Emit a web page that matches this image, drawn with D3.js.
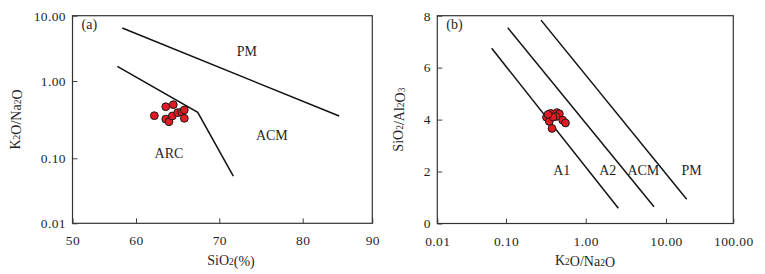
<!DOCTYPE html>
<html><head><meta charset="utf-8">
<script src="https://cdn.jsdelivr.net/npm/d3@7"></script>
<style>
body{margin:0;background:#fff;}
text{font-family:"Liberation Serif","Times New Roman",serif;fill:#1f1f2a;}
</style></head>
<body><svg id="c" width="765" height="274"></svg>
<script>
// ---------- Panel (a) data ----------
const aXTicks = [50, 60, 70, 80, 90];
const aYTicks = [0.01, 0.1, 1, 10];
const aSiO2   = [62.2, 63.57, 64.48, 63.57, 63.96, 64.36, 65.0, 65.49, 65.8, 65.8];
const aK2ONa2O= [0.356, 0.465, 0.494, 0.322, 0.297, 0.353, 0.389, 0.397, 0.422, 0.329];
const aLinePM  = [[57.84, 6.49], [85.24, 0.352]];
const aLineARC = [[57.06, 1.68], [67.41, 0.394], [71.68, 0.0532]];
const aRegions = [["PM", 73.3, 2.75], ["ACM", 76.3, 0.19], ["ARC", 63.96, 0.11]];

// ---------- Panel (b) data ----------
const bXTicks = [0.01, 0.1, 1, 10, 100];
const bYTicks = [0, 2, 4, 6, 8];
const bK2ONa2O = [0.322, 0.364, 0.349, 0.378, 0.437, 0.467, 0.424, 0.514, 0.558, 0.389, 0.337];
const bSiAl    = [4.09, 4.24, 3.93, 3.66, 4.27, 4.22, 4.12, 3.98, 3.87, 4.10, 4.20];
const bLineA1  = [[0.0619, 6.745], [2.55, 0.585]];
const bLineA2  = [[0.105, 7.54], [7.09, 0.647]];
const bLineACM = [[0.275, 7.83], [20.3, 0.93]];
const bRegions = [["A1", 0.5, 1.99], ["A2", 1.88, 1.99], ["ACM", 5.22, 1.99], ["PM", 24.1, 1.99]];

const svg = d3.select("#c");

function chemText(sel, str){
  const parts = str.match(/(\d+|[^\d]+)/g);
  parts.forEach(p=>{
    if(/^\d+$/.test(p)){
      sel.append("tspan").attr("font-size","9.5px").attr("dy","1").text(p);
      sel.append("tspan").attr("dy","-1").text("");
    } else sel.append("tspan").text(p);
  });
}

function panel(cfg){
  const g = svg.append("g");
  const {x, y} = cfg;
  const [x0,x1] = [x.range()[0], x.range()[x.range().length-1]];
  const [y0,y1] = [y.range()[0], y.range()[y.range().length-1]];
  const ax = g.append("g").attr("transform",`translate(0,${y0})`)
    .call(d3.axisBottom(x).tickValues(cfg.xTicks).tickFormat(cfg.xFmt)
      .tickSizeInner(-5).tickSizeOuter(0).tickPadding(12.5));
  const ay = g.append("g").attr("transform",`translate(${x0},0)`)
    .call(d3.axisLeft(y).tickValues(cfg.yTicks).tickFormat(cfg.yFmt)
      .tickSizeInner(-5).tickSizeOuter(0).tickPadding(6.5));
  [ax, ay].forEach(a=>{
    a.select(".domain").remove();
    a.selectAll(".tick line").attr("stroke","#444").attr("stroke-width",1);
    a.selectAll(".tick text").attr("font-size","13.5px").attr("letter-spacing","0.4px")
      .attr("fill","#1f1f2a");
  });
  g.append("rect").attr("x",x0).attr("y",y1).attr("width",x1-x0).attr("height",y0-y1)
    .attr("fill","none").attr("stroke","#333").attr("stroke-width",1.2);
  const line = d3.line().x(d=>x(d[0])).y(d=>y(d[1]));
  cfg.lines.forEach(l=>g.append("path").attr("d",line(l)).attr("fill","none")
    .attr("stroke","#111").attr("stroke-width",1.5));
  cfg.regions.forEach(r=>g.append("text").attr("x",x(r[1])).attr("y",y(r[2]))
    .attr("text-anchor","middle").attr("dominant-baseline","middle")
    .attr("font-size","14px").text(r[0]));
  g.selectAll("circle.pt").data(cfg.px.map((v,i)=>[v,cfg.py[i]])).join("circle")
    .attr("class","pt").attr("cx",d=>x(d[0])).attr("cy",d=>y(d[1])).attr("r",3.9)
    .attr("fill","#e21b23").attr("stroke","#1a1a1a").attr("stroke-width",1);
  g.append("text").attr("x",x0+9).attr("y",y1+10).attr("dominant-baseline","middle")
    .attr("font-size","14px").text(cfg.tag);
  const xt = g.append("text").attr("x",cfg.xTitleX).attr("y",262)
    .attr("text-anchor","middle").attr("dominant-baseline","middle").attr("font-size","14px");
  chemText(xt, cfg.xTitle);
  const yt = g.append("text").attr("transform",`translate(${cfg.yTitleX},${(y0+y1)/2}) rotate(-90)`)
    .attr("text-anchor","middle").attr("dominant-baseline","middle").attr("font-size","14px");
  chemText(yt, cfg.yTitle);
}

const f2 = d3.format(".2f");

panel({
  x: d3.scaleLinear().domain(aXTicks).range([72.5,136,219.3,302.7,372.3]),
  y: d3.scaleLog().domain(aYTicks).range([223.3,158.3,81,15.7]),
  xTicks: aXTicks, yTicks: aYTicks, xFmt: d3.format("d"), yFmt: f2,
  lines: [aLinePM, aLineARC], regions: aRegions, px: aSiO2, py: aK2ONa2O,
  tag: "(a)", xTitle: "SiO2(%)", yTitle: "K2O/Na2O", xTitleX: 231, yTitleX: 17
});

panel({
  x: d3.scaleLog().domain(bXTicks).range([437.3,506,585.7,666,733.3]),
  y: d3.scaleLinear().domain([0,8]).range([223.5,15.7]),
  xTicks: bXTicks, yTicks: bYTicks, xFmt: f2, yFmt: d3.format("d"),
  lines: [bLineA1, bLineA2, bLineACM], regions: bRegions, px: bK2ONa2O, py: bSiAl,
  tag: "(b)", xTitle: "K2O/Na2O", yTitle: "SiO2/Al2O3", xTitleX: 585, yTitleX: 400
});
</script></body></html>
